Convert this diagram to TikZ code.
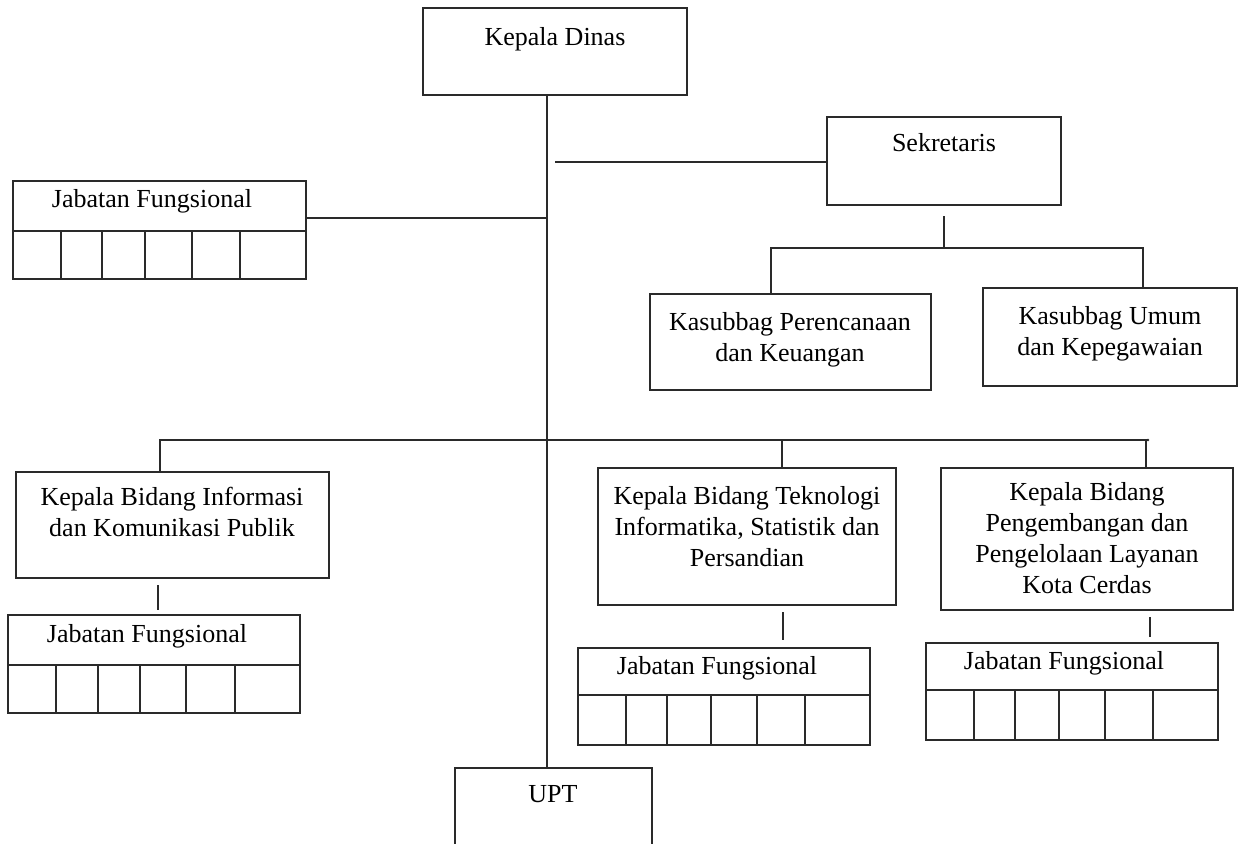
\documentclass[tikz,border=0pt]{standalone}
\usepackage{fontspec}
\setmainfont{Liberation Serif}
\usetikzlibrary{fit}
\definecolor{ln}{HTML}{2A2A2A}
\begin{document}
\begin{tikzpicture}[x=0.75pt,y=-0.75pt,
  box/.style={draw=ln, line width=1pt, inner sep=0pt},
  lab/.style={font=\fontsize{19.5}{23.3}\selectfont, align=center, anchor=north, inner sep=0pt, text=black},
  con/.style={draw=ln, line width=1pt}]
\useasboundingbox (0,0) rectangle (1239,843);
% boxes
\node[box, fit={(423,8) (687,95)}] (kd) {};
\node[lab] (kdt) at (555,27) {Kepala Dinas};
\node[box, fit={(827,117) (1061,205)}] (sek) {};
\node[lab] (sekt) at (944,133) {Sekretaris};
\node[box, fit={(650,294) (931,390)}] (kp) {};
\node[lab] (kpt) at (790,312) {Kasubbag Perencanaan\\dan Keuangan};
\node[box, fit={(983,288) (1237,386)}] (ku) {};
\node[lab] (kut) at (1110,306) {Kasubbag Umum\\dan Kepegawaian};
\node[box, fit={(16,472) (329,578)}] (ki) {};
\node[lab] (kit) at (172,487) {Kepala Bidang Informasi\\dan Komunikasi Publik};
\node[box, fit={(598,468) (896,605)}] (ti) {};
\node[lab] (tit) at (747,486) {Kepala Bidang Teknologi\\Informatika, Statistik dan\\Persandian};
\node[box, fit={(941,468) (1233,610)}] (kc) {};
\node[lab] (kct) at (1087,482) {Kepala Bidang\\Pengembangan dan\\Pengelolaan Layanan\\Kota Cerdas};
\node[box, fit={(455,768) (652,870)}] (upt) {};
\node[lab] (uptt) at (553,785) {UPT};
% Jabatan Fungsional tables
\node[box, fit={(13,181) (306,279)}] (jf0) {};
\node[lab] (jf0t) at (152,189) {Jabatan Fungsional};
\draw[con] (13,231) -- (306,231);
\foreach \x in {61,102,145,192,240} \draw[con] (\x,231) -- (\x,279);
\node[box, fit={(8,615) (300,713)}] (jf1) {};
\node[lab] (jf1t) at (147,624) {Jabatan Fungsional};
\draw[con] (8,665) -- (300,665);
\foreach \x in {56,98,140,186,235} \draw[con] (\x,665) -- (\x,713);
\node[box, fit={(578,648) (870,745)}] (jf2) {};
\node[lab] (jf2t) at (717,656) {Jabatan Fungsional};
\draw[con] (578,695) -- (870,695);
\foreach \x in {626,667,711,757,805} \draw[con] (\x,695) -- (\x,745);
\node[box, fit={(926,643) (1218,740)}] (jf3) {};
\node[lab] (jf3t) at (1064,651) {Jabatan Fungsional};
\draw[con] (926,690) -- (1218,690);
\foreach \x in {974,1015,1059,1105,1153} \draw[con] (\x,690) -- (\x,740);
% connectors
\coordinate (m) at (547,0);
\draw[con] (kd.south -| m) -- (upt.north -| m);
\coordinate (s0) at (555,162);
\draw[con] (s0) -- (s0 -| sek.west);
\coordinate (j0) at (547,218);
\draw[con] (jf0.east |- j0) -- (j0);
\coordinate (s1) at (944,216);
\coordinate (s2) at (944,248);
\coordinate (s3) at (771,248);
\coordinate (s4) at (1143,248);
\draw[con] (s1) -- (s2);
\draw[con] (s3 |- kp.north) -- (s3) -- (s4) -- (s4 |- ku.north);
\coordinate (b0) at (160,440);
\coordinate (b1) at (782,440);
\coordinate (b2) at (1148,440);
\draw[con] (b0 |- ki.north) -- (b0) -- (b2);
\draw[con] (b1) -- (b1 |- ti.north);
\draw[con] (1146,440) -- (1146,440 |- kc.north);
\fill[ln] (b2) circle (1.3);
\coordinate (f1a) at (158,585);
\coordinate (f2a) at (783,612);
\coordinate (f3a) at (1150,617);
\draw[con] (f1a) -- (158,610);
\draw[con] (f2a) -- (783,640);
\draw[con] (f3a) -- (1150,637);
\end{tikzpicture}
\end{document}
